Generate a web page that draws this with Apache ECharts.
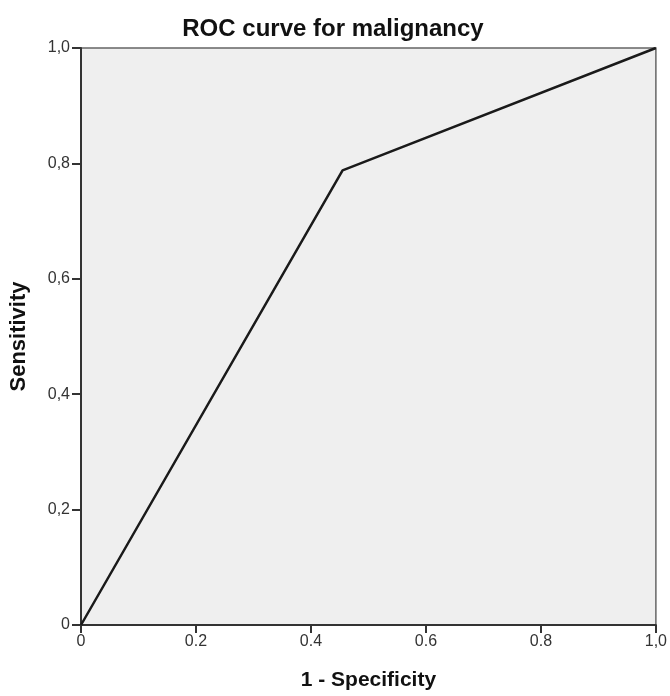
<!DOCTYPE html>
<html>
<head>
<meta charset="utf-8">
<script src="https://cdn.jsdelivr.net/npm/echarts@6/dist/echarts.min.js"></script>
<style>html,body{margin:0;padding:0;background:#fff;}#c{width:670px;height:696px;}</style>
</head>
<body>
<div id="c"></div>
<script>
const fpr = [0, 0.455, 1];
const tpr = [0, 0.788, 1];
const xTickLabels = {0: '0', 0.2: '0.2', 0.4: '0.4', 0.6: '0.6', 0.8: '0.8', 1: '1,0'};
const yTickLabels = {0: '0', 0.2: '0,2', 0.4: '0,4', 0.6: '0,6', 0.8: '0,8', 1: '1,0'};
const titleText = 'ROC curve for malignancy';
const xName = '1 - Specificity';
const yName = 'Sensitivity';

const chart = echarts.init(document.getElementById('c'));
const key = v => Math.round(v * 10) / 10;
const font = 'Liberation Sans, Arial';
chart.setOption({
  animation: false,
  title: {
    text: titleText, left: 328, top: 12, textAlign: 'center',
    textStyle: {fontFamily: font, fontSize: 24, fontWeight: 'bold', color: '#111'}
  },
  grid: {
    left: 80, right: 12, top: 48, bottom: 68, show: true,
    backgroundColor: '#efefef', borderColor: '#666', borderWidth: 1.5
  },
  xAxis: {
    type: 'value', min: 0, max: 1, interval: 0.2,
    name: xName, nameLocation: 'middle', nameGap: 45,
    nameTextStyle: {fontFamily: font, fontSize: 21, fontWeight: 'bold', color: '#111'},
    axisLine: {show: true, lineStyle: {color: '#333', width: 2}},
    axisTick: {show: true, length: 8, lineStyle: {color: '#333', width: 2}},
    axisLabel: {
      margin: 9, fontFamily: font, fontSize: 16, color: '#333',
      formatter: v => xTickLabels[key(v)]
    },
    splitLine: {show: false}
  },
  yAxis: {
    type: 'value', min: 0, max: 1, interval: 0.2,
    name: yName, nameLocation: 'middle', nameGap: 51,
    nameTextStyle: {fontFamily: font, fontSize: 22, fontWeight: 'bold', color: '#111'},
    axisLine: {show: true, lineStyle: {color: '#333', width: 2}},
    axisTick: {show: true, length: 9, lineStyle: {color: '#333', width: 2}},
    axisLabel: {
      margin: 11, fontFamily: font, fontSize: 16, color: '#333',
      formatter: v => yTickLabels[key(v)]
    },
    splitLine: {show: false}
  },
  series: [{
    type: 'line',
    data: fpr.map((x, i) => [x, tpr[i]]),
    symbol: 'none',
    lineStyle: {color: '#1a1a1a', width: 2.5}
  }]
});
</script>
</body>
</html>
